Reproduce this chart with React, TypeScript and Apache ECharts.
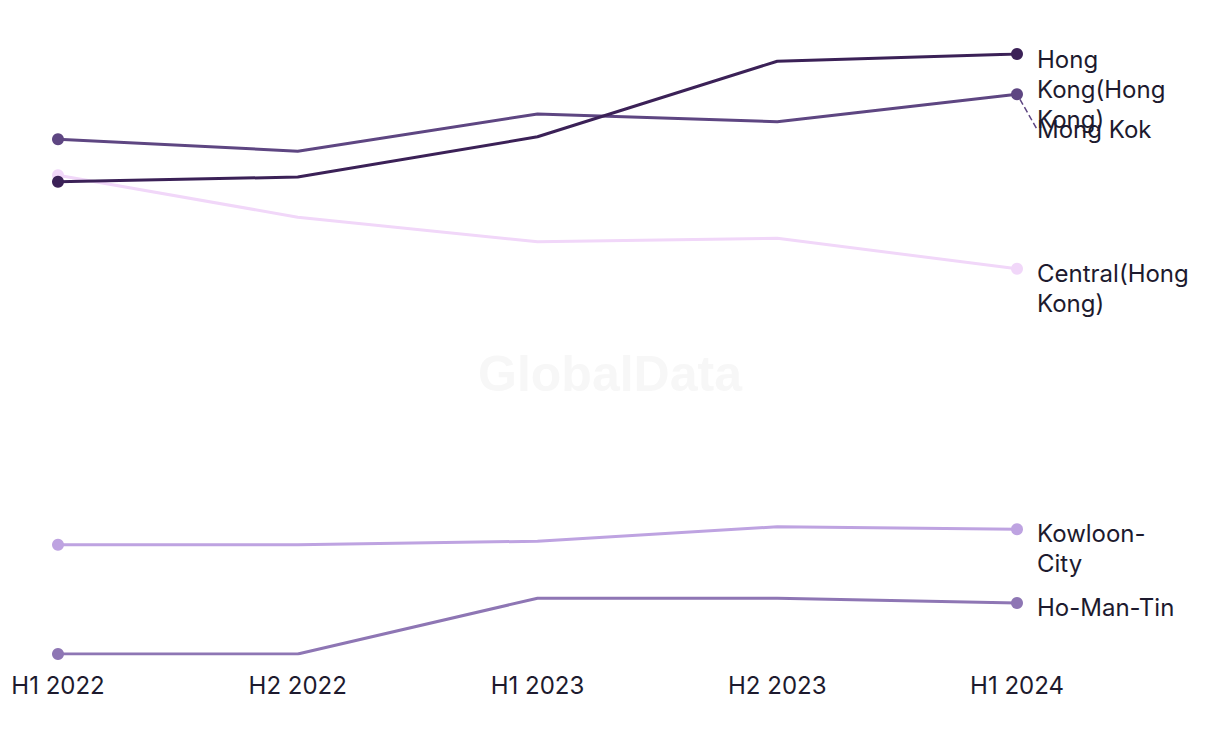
import React, { useEffect, useRef } from "react";
import * as echarts from "echarts";

const categories = ["H1 2022", "H2 2022", "H1 2023", "H2 2023", "H1 2024"];
const seriesNames = ["Hong Kong(Hong Kong)", "Mong Kok", "Central(Hong Kong)", "Kowloon-City", "Ho-Man-Tin"];
const labelTexts = ["Hong\nKong(Hong\nKong)", "Mong Kok", "Central(Hong\nKong)", "Kowloon-\nCity", "Ho-Man-Tin"];
const hongKong = [78.7, 79.5, 86.2, 98.8, 100];
const mongKok = [85.8, 83.8, 90.0, 88.7, 93.3];
const central = [79.8, 72.8, 68.7, 69.3, 64.2];
const kowloonCity = [18.2, 18.2, 18.8, 21.2, 20.8];
const hoManTin = [0, 0, 9.3, 9.3, 8.5];
const seriesValues = [hongKong, mongKok, central, kowloonCity, hoManTin];
const colors = ["#3b2157", "#5e4682", "#f1d7f9", "#bea3e1", "#8e76b4"];
const labelOffsets = [35, 4, 20, 19, 4];

export default function App() {
  const ref = useRef<HTMLDivElement>(null);
  useEffect(() => {
    if (!ref.current) return;
    const chart = echarts.init(ref.current, null, { renderer: "svg" });
    const last = categories.length - 1;
    chart.setOption({
      animation: false,
      backgroundColor: "#ffffff",
      graphic: [
        {
          type: "text",
          left: "center",
          top: 341,
          z: -1,
          style: {
            text: "GlobalData",
            font: "bold 50px 'Liberation Sans', Arial, sans-serif",
            fill: "#f7f7f7",
          },
        },
      ],
      grid: { left: 50, right: 195, top: 46, bottom: 82 },
      xAxis: {
        type: "category",
        data: categories,
        boundaryGap: false,
        axisLine: { show: false },
        axisTick: { show: false },
        splitLine: { show: false },
        axisLabel: {
          color: "#1d1a2e",
          fontSize: 24,
          fontFamily: "Inter",
          margin: 19,
        },
      },
      yAxis: {
        type: "value",
        min: 0,
        max: 100,
        show: false,
        splitLine: { show: false },
      },
      series: seriesValues.map((vals, si) => ({
        name: seriesNames[si],
        type: "line",
        data: vals.map((v, i) =>
          i === last ? { value: v, label: { show: true } } : v
        ),
        symbol: "circle",
        symbolSize: (_v: any, p: any) =>
          p.dataIndex === 0 || p.dataIndex === last ? 12 : 0,
        showSymbol: true,
        lineStyle: { width: 3, color: colors[si] },
        itemStyle: { color: colors[si] },
        z: 10 - si,
        label: {
          show: false,
          position: "right",
          distance: 14,
          offset: si === 1 ? [0, 0] : [0, labelOffsets[si]],
          formatter: () => labelTexts[si],
          color: "#1d1a2e",
          fontSize: 24,
          fontFamily: "Inter",
          lineHeight: 30,
        },
        labelLine: si === 1
          ? { show: true, lineStyle: { type: "dashed", color: colors[si], width: 1.5 } }
          : { show: false },
        labelLayout: si === 1 ? { dy: 35 } : undefined,
      })),
    });
    return () => chart.dispose();
  }, []);
  return <div ref={ref} style={{ width: 1204, height: 728 }} />;
}
